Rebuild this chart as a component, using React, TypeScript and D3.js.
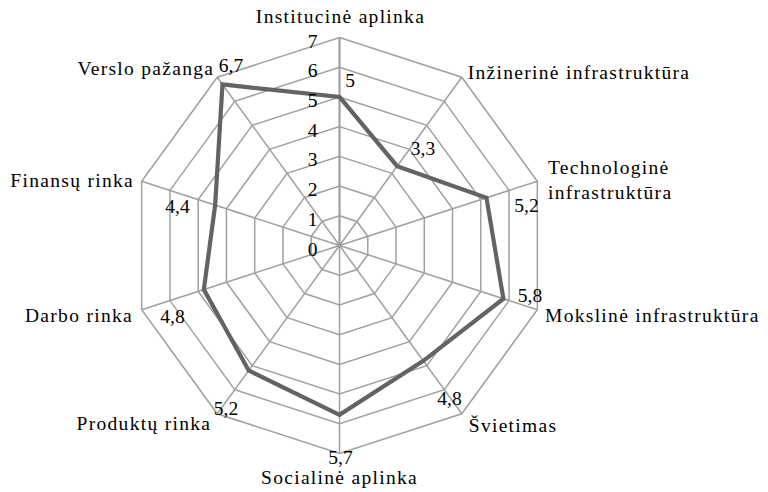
import React from "react";
import * as d3 from "d3";

const categories = [
  "Institucinė aplinka",
  "Inžinerinė infrastruktūra",
  "Technologinė infrastruktūra",
  "Mokslinė infrastruktūra",
  "Švietimas",
  "Socialinė aplinka",
  "Produktų rinka",
  "Darbo rinka",
  "Finansų rinka",
  "Verslo pažanga",
];
const values = [5, 3.3, 5.2, 5.8, 4.8, 5.7, 5.2, 4.8, 4.4, 6.7];
const valueLabels = ["5", "3,3", "5,2", "5,8", "4,8", "5,7", "5,2", "4,8", "4,4", "6,7"];
const ticks = [0, 1, 2, 3, 4, 5, 6, 7];

// label layout (styling)
const catLines = [
  ["Institucinė aplinka"],
  ["Inžinerinė infrastruktūra"],
  ["Technologinė", "infrastruktūra"],
  ["Mokslinė infrastruktūra"],
  ["Švietimas"],
  ["Socialinė aplinka"],
  ["Produktų rinka"],
  ["Darbo rinka"],
  ["Finansų rinka"],
  ["Verslo pažanga"],
];
const catAnchor = ["middle", "start", "start", "start", "start", "middle", "end", "end", "end", "end"];
const catOffset = [
  [1, -14.7], [6, 2], [10.7, -7.4], [7.7, 12], [7, 18],
  [0, 30], [-6, 16], [-8.7, 12.7], [-7.7, 5.3], [-3, -2.4],
];
const valOffset = [
  [10.5, -10.2], [25.9, -11.4], [40.1, 14], [26.6, 3.1], [26.2, 43.9],
  [1, 49], [-22.7, 44.4], [-31.4, 33.2], [-37.7, 7.7], [8.5, -12.7],
];

const W = 768, H = 492;
const cx = 339.5, cy = 245.5, R = 208;
const FONT = '"Liberation Serif", "Times New Roman", Times, serif';
const FS = 19.5;
const LS = 1.3;

export default function App() {
  const r = d3.scaleLinear().domain([0, 7]).range([0, R]);
  const n = categories.length;
  const ang = d3.scaleLinear().domain([0, n]).range([0, 2 * Math.PI]);
  const pt = (i: number, v: number): [number, number] => {
    const a = ang(i);
    return [cx + r(v) * Math.sin(a), cy - r(v) * Math.cos(a)];
  };
  const closed = d3.line<[number, number]>().curve(d3.curveLinearClosed);
  const dataPts = values.map((v, i) => pt(i, v));

  return (
    <svg width={W} height={H}
      style={{ position: "absolute", left: 0, top: 0, background: "#fff", fontFamily: FONT, fontSize: FS }}>
      <g fill="none" stroke="#a0a0a0" strokeWidth={1.5}>
        {ticks.filter((t) => t > 0).map((t) => (
          <path key={t} d={closed(d3.range(n).map((i) => pt(i, t))) || ""} />
        ))}
        {d3.range(n).map((i) => {
          const [x, y] = pt(i, 7);
          return <line key={i} x1={cx} y1={cy} x2={x} y2={y} strokeWidth={i === 0 ? 2.2 : 1.5} />;
        })}
      </g>
      <path d={closed(dataPts) || ""} fill="none" stroke="#636363" strokeWidth={4.2} strokeLinejoin="miter" />
      <g textAnchor="end" fill="#000">
        {ticks.map((t) => {
          const [, y] = pt(0, t);
          return (
            <text key={t} x={cx - 22} y={y + 10}>{t}</text>
          );
        })}
      </g>
      <g textAnchor="middle" fill="#000">
        {valueLabels.map((lab, i) => {
          const [x, y] = dataPts[i];
          return (
            <text key={i} x={x + valOffset[i][0]} y={y + valOffset[i][1]}>{lab}</text>
          );
        })}
      </g>
      <g fill="#000" style={{ letterSpacing: LS }}>
        {catLines.map((lines, i) => {
          const [x, y] = pt(i, 7);
          return (
            <text key={i} textAnchor={catAnchor[i]} x={x + catOffset[i][0]} y={y + catOffset[i][1]}>
              {lines.map((l, j) => (
                <tspan key={j} x={x + catOffset[i][0]} dy={j === 0 ? 0 : 25}>{l}</tspan>
              ))}
            </text>
          );
        })}
      </g>
    </svg>
  );
}
